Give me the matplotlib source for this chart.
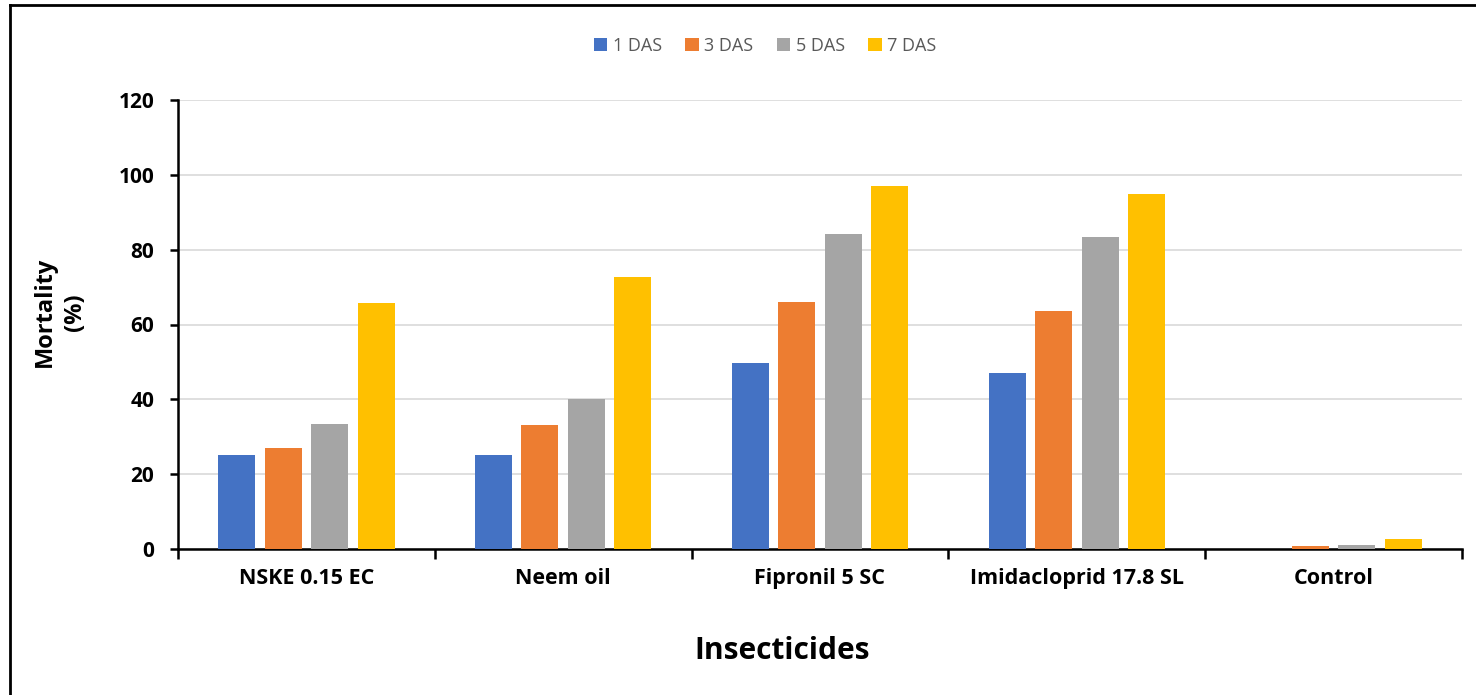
import matplotlib
matplotlib.use("Agg")
import matplotlib.pyplot as plt
import numpy as np
from matplotlib.lines import Line2D
from matplotlib.patches import Patch

categories = ["NSKE 0.15 EC", "Neem oil", "Fipronil 5 SC", "Imidacloprid 17.8 SL", "Control"]
series_names = ["1 DAS", "3 DAS", "5 DAS", "7 DAS"]
das1 = [25.2, 25.2, 49.8, 47.0, 0.0]
das3 = [27.0, 33.1, 66.0, 63.7, 0.8]
das5 = [33.5, 40.2, 84.3, 83.4, 1.1]
das7 = [65.8, 72.8, 97.1, 95.0, 2.8]
colors = ["#4472C4", "#ED7D31", "#A5A5A5", "#FFC000"]
yticks = [0, 20, 40, 60, 80, 100, 120]

plt.rcParams['font.family'] = ['Open Sans', 'DejaVu Sans']

fig = plt.figure(figsize=(14.76, 6.95), dpi=100)
ax = fig.add_axes([178/1476, 1 - 549/695, (1462-178)/1476, (549-100)/695])

x = np.arange(len(categories))
width = 0.144
step = 0.181
all_series = [das1, das3, das5, das7]
for i, (vals, c, name) in enumerate(zip(all_series, colors, series_names)):
    offs = (i - 1.5) * step
    ax.bar(x + offs, vals, width=width, color=c, label=name, zorder=3)

ax.set_xlim(-0.5, len(categories) - 0.5)
ax.set_ylim(0, 120)
ax.set_yticks(yticks)
ax.set_yticklabels([str(v) for v in yticks], fontsize=15, fontweight='bold')
ax.yaxis.grid(True, color='#d9d9d9', linewidth=1.2, zorder=0)
ax.set_axisbelow(True)

ax.set_xticks(x)
ax.set_xticklabels(categories, fontsize=15.5, fontweight='bold')
ax.tick_params(axis='x', length=0, pad=14)
ax.set_xticks(np.arange(len(categories) + 1) - 0.5, minor=True)
ax.tick_params(axis='x', which='minor', length=7, width=1.8, direction='out')
ax.tick_params(axis='y', length=6, width=1.8, direction='out', pad=11)

for s in ['top', 'right']:
    ax.spines[s].set_visible(False)
for s in ['left', 'bottom']:
    ax.spines[s].set_linewidth(1.8)
    ax.spines[s].set_color('black')

fig.text(782/1476, 1 - 651/695, "Insecticides", fontsize=21.5, fontweight='bold',
         ha='center', va='center')
fig.text(60/1476, 1 - 312/695, "Mortality\n(%)", fontsize=17, fontweight='bold',
         rotation=90, ha='center', va='center', multialignment='center', linespacing=1.35)

handles = [Patch(facecolor=c, edgecolor='none') for c in colors]
leg = fig.legend(handles, series_names, loc='center', bbox_to_anchor=(765/1476, 1 - 46/695),
                 ncol=4, frameon=False, fontsize=13, handlelength=0.75, handleheight=0.75,
                 handletextpad=0.3, columnspacing=1.3)
for t in leg.get_texts():
    t.set_color('#595959')

# outer frame (top and left visible)
fig.add_artist(Line2D([10/1476, 1.0], [1 - 5/695, 1 - 5/695], color='black', linewidth=2, transform=fig.transFigure))
fig.add_artist(Line2D([10/1476, 10/1476], [0, 1 - 5/695], color='black', linewidth=2, transform=fig.transFigure))

fig.savefig("out.png", dpi=100)
